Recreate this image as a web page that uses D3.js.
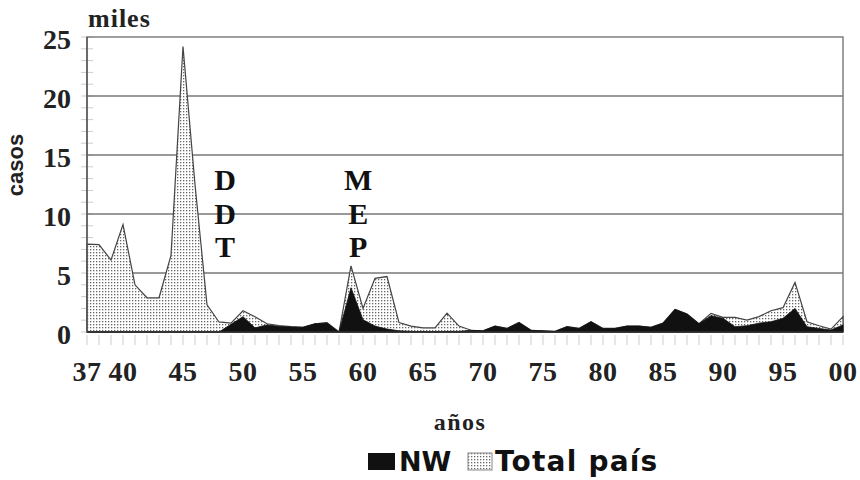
<!DOCTYPE html>
<html>
<head>
<meta charset="utf-8">
<script src="https://cdn.jsdelivr.net/npm/d3@7"></script>
<style>
body { margin: 0; background: #fff; }
svg { display: block; }
</style>
</head>
<body>
<svg width="860" height="480"></svg>
<script>
// years 1937 .. 2000, cases in thousands (miles)
var years = d3.range(1937, 2001);

var totalPais = [
    7.45, 7.4, 6.1, 9.1, 4.0, 2.9, 2.9, 6.5, 24.2, 12.5,      // 37-46
    2.3, 0.85, 0.75, 1.8, 1.3, 0.7, 0.55, 0.45, 0.4, 0.7,     // 47-56
    0.8, 0.0, 5.6, 2.0, 4.55, 4.7, 0.8, 0.5, 0.35, 0.35,      // 57-66
    1.6, 0.5, 0.15, 0.1, 0.5, 0.3, 0.8, 0.15, 0.1, 0.05,      // 67-76
    0.45, 0.3, 0.87, 0.3, 0.3, 0.5, 0.5, 0.4, 0.75, 1.92,     // 77-86
    1.53, 0.7, 1.58, 1.24, 1.24, 1.0, 1.3, 1.8, 2.06, 4.2,    // 87-96
    0.87, 0.53, 0.25, 1.3                                     // 97-00
];

var nw = [
    0, 0, 0, 0, 0, 0, 0, 0, 0, 0,                             // 37-46
    0, 0, 0.65, 1.3, 0.35, 0.6, 0.48, 0.42, 0.4, 0.7,         // 47-56
    0.76, 0.0, 3.75, 1.04, 0.5, 0.25, 0.1, 0.05, 0.03, 0.03,  // 57-66
    0.05, 0.05, 0.15, 0.1, 0.5, 0.3, 0.8, 0.15, 0.1, 0.05,    // 67-76
    0.45, 0.3, 0.87, 0.3, 0.3, 0.5, 0.5, 0.4, 0.75, 1.92,     // 77-86
    1.53, 0.7, 1.38, 1.16, 0.45, 0.53, 0.75, 0.87, 1.16, 2.0, // 87-96
    0.45, 0.3, 0.17, 0.6                                      // 97-00
];

var xTickYears = [1937, 1940, 1945, 1950, 1955, 1960, 1965, 1970, 1975,
                  1980, 1985, 1990, 1995, 2000];
var yTicks = [0, 5, 10, 15, 20, 25];

var annotations = [
    { text: "DDT", year: 1948.5 },
    { text: "MEP", year: 1959.6 }
];

var legendItems = ["NW", "Total país"];

var serif = "'Liberation Serif', 'Times New Roman', serif";
var sans = "'DejaVu Sans', Verdana, sans-serif";

var svg = d3.select("svg");

var x = d3.scaleLinear().domain([1937, 2000]).range([87, 843]);
var y = d3.scaleLinear().domain([0, 25]).range([332, 37]);

function drawPattern()
{
    var pat = svg.append("defs").append("pattern")
        .attr("id", "dots")
        .attr("patternUnits", "userSpaceOnUse")
        .attr("width", 3)
        .attr("height", 3);
    pat.append("rect").attr("width", 3).attr("height", 3).attr("fill", "#fff");
    pat.append("rect").attr("width", 1.3).attr("height", 1.3).attr("fill", "#666");
}

function drawGrid()
{
    // minor ticks, light grey
    svg.append("g").selectAll("line")
        .data(d3.range(0, 26))
        .enter().append("line")
        .attr("x1", 81).attr("x2", 93)
        .attr("y1", function(d) { return y(d); })
        .attr("y2", function(d) { return y(d); })
        .attr("stroke", "#ccc");

    svg.append("g").selectAll("line")
        .data(years)
        .enter().append("line")
        .attr("x1", function(d) { return x(d); })
        .attr("x2", function(d) { return x(d); })
        .attr("y1", 335).attr("y2", 345)
        .attr("stroke", "#ccc");

    svg.append("g").selectAll("line")
        .data([5, 10, 15, 20])
        .enter().append("line")
        .attr("x1", x(1937)).attr("x2", x(2000))
        .attr("y1", function(d) { return y(d); })
        .attr("y2", function(d) { return y(d); })
        .attr("stroke", "#777")
        .attr("stroke-width", 1.4);

    // frame
    svg.append("rect")
        .attr("x", x(1937)).attr("y", y(25))
        .attr("width", x(2000) - x(1937))
        .attr("height", y(0) - y(25))
        .attr("fill", "none")
        .attr("stroke", "#777")
        .attr("stroke-width", 1.4);
}

function drawAreas()
{
    var area = function(values)
    {
        return d3.area()
            .x(function(d, i) { return x(years[i]); })
            .y0(y(0))
            .y1(function(d) { return y(d); })(values);
    };

    svg.append("path")
        .attr("d", area(totalPais))
        .attr("fill", "url(#dots)")
        .attr("stroke", "#444")
        .attr("stroke-width", 1.2);

    svg.append("path")
        .attr("d", area(nw))
        .attr("fill", "#111")
        .attr("stroke", "#111")
        .attr("stroke-width", 0.8);

    svg.append("line")
        .attr("x1", x(1937)).attr("x2", x(2000))
        .attr("y1", y(0)).attr("y2", y(0))
        .attr("stroke", "#333")
        .attr("stroke-width", 1.6);
    svg.append("line")
        .attr("x1", x(1937)).attr("x2", x(1937))
        .attr("y1", y(0)).attr("y2", y(25))
        .attr("stroke", "#555")
        .attr("stroke-width", 1.4);
}

function drawAxes()
{
    svg.append("g").selectAll("text")
        .data(yTicks)
        .enter().append("text")
        .attr("x", 71)
        .attr("y", function(d) { return y(d) + 12; })
        .attr("text-anchor", "end")
        .attr("font-family", serif)
        .attr("font-weight", "bold")
        .attr("font-size", 28)
        .attr("fill", "#222")
        .text(function(d) { return d; });

    svg.append("g").selectAll("text")
        .data(xTickYears)
        .enter().append("text")
        .attr("x", function(d) { return x(d); })
        .attr("y", 381)
        .attr("text-anchor", "middle")
        .attr("font-family", serif)
        .attr("font-weight", "bold")
        .attr("font-size", 28)
        .attr("letter-spacing", 0.5)
        .attr("fill", "#222")
        .text(function(d) { return String(d).slice(2); });

    svg.append("text")
        .attr("x", 88).attr("y", 27)
        .attr("font-family", serif).attr("font-weight", "bold")
        .attr("font-size", 26).attr("fill", "#222")
        .attr("letter-spacing", 1)
        .text("miles");

    svg.append("text")
        .attr("transform", "translate(23,165) rotate(-90)")
        .attr("text-anchor", "middle")
        .attr("font-family", "'Liberation Sans', Arial, sans-serif")
        .attr("font-weight", "bold")
        .attr("font-size", 22).attr("fill", "#222")
        .text("casos");

    svg.append("text")
        .attr("x", 460).attr("y", 430)
        .attr("text-anchor", "middle")
        .attr("font-family", serif).attr("font-weight", "bold")
        .attr("font-size", 24).attr("fill", "#222")
        .attr("letter-spacing", 1.5)
        .text("años");
}

function drawAnnotations()
{
    annotations.forEach(function(a)
    {
        svg.append("g").selectAll("text")
            .data(a.text.split(""))
            .enter().append("text")
            .attr("x", x(a.year))
            .attr("y", function(d, i) { return y(12) + i * 33.5; })
            .attr("text-anchor", "middle")
            .attr("font-family", serif).attr("font-weight", "bold")
            .attr("font-size", 30).attr("fill", "#111")
            .text(function(d) { return d; });
    });
}

function drawLegend()
{
    svg.append("rect")
        .attr("x", 368).attr("y", 453).attr("width", 27).attr("height", 17)
        .attr("fill", "#111");
    svg.append("text")
        .attr("x", 399).attr("y", 471)
        .attr("font-family", sans).attr("font-weight", "bold")
        .attr("font-size", 27).attr("fill", "#111")
        .text(legendItems[0]);

    svg.append("rect")
        .attr("x", 468).attr("y", 453).attr("width", 24).attr("height", 17)
        .attr("fill", "url(#dots)")
        .attr("stroke", "#888");
    svg.append("text")
        .attr("x", 495).attr("y", 471)
        .attr("font-family", sans).attr("font-weight", "bold")
        .attr("font-size", 28).attr("fill", "#111")
        .attr("letter-spacing", 1.2)
        .text(legendItems[1]);
}

function setup()
{
    drawPattern();
    drawGrid();
    drawAreas();
    drawAxes();
    drawAnnotations();
    drawLegend();
}

setup();
</script>
</body>
</html>
